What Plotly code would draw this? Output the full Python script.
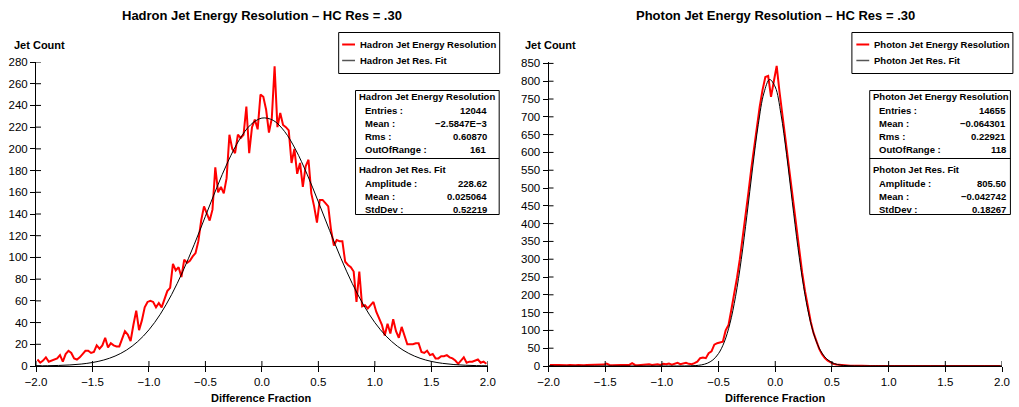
import plotly.graph_objects as go

# ---------------- data ----------------
bin_start = -1.9875   # centre of first bin
bin_width = 0.025

hadron_name = "Hadron Jet Energy Resolution"
hadron_fit_name = "Hadron Jet Res. Fit"
photon_name = "Photon Jet Energy Resolution"
photon_fit_name = "Photon Jet Res. Fit"

hadron_counts = [
    6, 3, 5, 8, 4, 5, 6, 7, 10, 4, 11, 14, 12, 7, 6, 8, 11, 14, 14, 12,
    13, 19, 16, 19, 26, 17, 21, 19, 18, 18, 25, 32, 29, 23, 38, 51, 33, 42, 54, 59,
    60, 59, 54, 58, 54, 61, 69, 72, 94, 88, 91, 82, 98, 95, 97, 101, 104, 115, 134, 147,
    140, 134, 144, 183, 160, 165, 159, 173, 213, 200, 196, 213, 210, 213, 239, 196, 220, 227, 218, 250,
    248, 236, 215, 228, 276, 220, 233, 222, 220, 217, 187, 200, 177, 187, 165, 184, 190, 159, 147, 132,
    153, 153, 150, 147, 125, 111, 116, 115, 115, 96, 93, 91, 87, 59, 87, 55, 56, 53, 56, 59,
    50, 44, 38, 28, 39, 30, 43, 32, 26, 36, 28, 20, 20, 20, 21, 21, 13, 12, 14, 10,
    11, 7, 7, 9, 9, 10, 8, 7, 5, 2, 5, 8, 3, 4, 4, 5, 6, 3, 4, 2,
]

photon_counts = [
    3, 2, 3, 3, 2, 3, 2, 3, 2, 2, 3, 2, 2, 3, 3, 2, 3, 2, 3, 4,
    7, 3, 2, 3, 4, 3, 3, 2, 3, 8, 3, 2, 3, 4, 3, 5, 3, 4, 5, 3,
    6, 5, 7, 4, 6, 9, 5, 7, 9, 6, 5, 8, 12, 22, 24, 22, 36, 41, 60, 64,
    66, 68, 100, 115, 158, 200, 248, 300, 358, 420, 485, 552, 615, 675, 728, 775, 812, 815, 756, 800,
    843, 770, 705, 650, 585, 515, 448, 380, 318, 262, 210, 165, 125, 93, 68, 48, 33, 22, 15, 10,
    6, 4, 3, 2, 2, 1, 1, 1, 0, 1, 1, 0, 1, 0, 0, 1, 0, 0, 1, 0,
    0, 1, 0, 0, 0, 1, 0, 0, 0, 0, 1, 0, 0, 0, 0, 0, 1, 0, 0, 0,
    0, 0, 0, 1, 0, 0, 0, 0, 0, 1, 0, 0, 0, 0, 0, 0, 0, 1, 0, 0,
]

hadron_fit_x = [-2.0, -1.9, -1.8, -1.7, -1.6, -1.5, -1.4, -1.3, -1.2, -1.1, -1.0,
                -0.9, -0.8, -0.7, -0.6, -0.5, -0.4, -0.3, -0.2, -0.1, 0.0,
                0.1, 0.2, 0.3, 0.4, 0.5, 0.6, 0.7, 0.8, 0.9, 1.0,
                1.1, 1.2, 1.3, 1.4, 1.5, 1.6, 1.7, 1.8, 1.9, 2.0]
hadron_fit_y = [0.12, 0.26, 0.51, 0.98, 1.80, 3.21, 5.52, 9.14, 14.58, 22.45, 33.31,
                47.62, 65.64, 87.19, 111.70, 137.93, 164.17, 188.36, 208.36, 222.15, 228.36,
                226.27, 216.14, 199.02, 176.66, 151.17, 124.69, 99.15, 76.00, 56.16, 40.01,
                27.47, 18.18, 11.61, 7.14, 4.23, 2.42, 1.33, 0.71, 0.36, 0.18]

photon_fit_x = [-2.0, -1.5, -1.0, -0.9, -0.85, -0.8, -0.75, -0.7, -0.65, -0.6, -0.55,
                -0.5, -0.45, -0.4, -0.35, -0.3, -0.25, -0.2, -0.15, -0.1, -0.05,
                0.0, 0.05, 0.1, 0.15, 0.2, 0.25, 0.3, 0.35, 0.4, 0.45,
                0.5, 0.55, 0.6, 0.65, 0.7, 0.75, 0.8, 1.0, 1.5, 2.0]
photon_fit_y = [0.0, 0.0, 0.0, 0.01, 0.05, 0.15, 0.45, 1.24, 3.21, 7.68, 17.05,
                35.10, 67.10, 118.97, 195.76, 298.80, 423.17, 556.07, 677.96, 766.89, 804.86,
                783.74, 708.10, 593.55, 461.65, 333.12, 223.04, 138.57, 79.87, 42.71, 21.19,
                9.75, 4.16, 1.65, 0.61, 0.21, 0.07, 0.02, 0.0, 0.0, 0.0]

x_ticks = [-2.0, -1.5, -1.0, -0.5, 0.0, 0.5, 1.0, 1.5, 2.0]
hadron_y_ticks = [0, 20, 40, 60, 80, 100, 120, 140, 160, 180, 200, 220, 240, 260, 280]
photon_y_ticks = [0, 50, 100, 150, 200, 250, 300, 350, 400, 450, 500, 550, 600, 650, 700, 750, 800, 850]

stats_labels = ["Entries :", "Mean :", "Rms :", "OutOfRange :"]
fit_labels = ["Amplitude :", "Mean :", "StdDev :"]
hadron_stats_values = ["12044", "\u22122.5847E\u22123", "0.60870", "161"]
hadron_fit_values = ["228.62", "0.025064", "0.52219"]
photon_stats_values = ["14655", "\u22120.064301", "0.22921", "118"]
photon_fit_values = ["805.50", "\u22120.042742", "0.18267"]

# ---------------- layout helpers ----------------
W, H = 1019, 407
L, R, T, B = 35, 9, 62, 41
PW, PH = W - L - R, H - T - B
FONT = "Liberation Sans, Arial, Helvetica, sans-serif"


def px(x):
    return (x - L) / PW


def py(y):
    return (H - B - y) / PH


fig = go.Figure()

fig.add_trace(go.Scatter(x0=bin_start, dx=bin_width, y=hadron_counts, mode="lines",
                         line=dict(color="#ff0000", width=2), name=hadron_name,
                         xaxis="x", yaxis="y", showlegend=False))
fig.add_trace(go.Scatter(x=hadron_fit_x, y=hadron_fit_y, mode="lines",
                         line=dict(color="black", width=1, shape="spline"), name=hadron_fit_name,
                         xaxis="x", yaxis="y", showlegend=False))
fig.add_trace(go.Scatter(x0=bin_start, dx=bin_width, y=photon_counts, mode="lines",
                         line=dict(color="#ff0000", width=2), name=photon_name,
                         xaxis="x2", yaxis="y2", showlegend=False))
fig.add_trace(go.Scatter(x=photon_fit_x, y=photon_fit_y, mode="lines",
                         line=dict(color="black", width=1, shape="spline"), name=photon_fit_name,
                         xaxis="x2", yaxis="y2", showlegend=False))

axis_common = dict(showline=True, linecolor="black", linewidth=1, ticks="outside",
                   ticklen=5, tickcolor="black", tickwidth=1, showgrid=False,
                   zeroline=False, tickfont=dict(family=FONT, size=11.5, color="black"))

fig.update_layout(
    width=W, height=H,
    margin=dict(l=L, r=R, t=T, b=B, pad=0),
    paper_bgcolor="white", plot_bgcolor="white",
    showlegend=False,
    font=dict(family=FONT, color="black"),
    xaxis=dict(domain=[0, px(491)], range=[-2, 2], tickvals=x_ticks,
               tickformat=".1f", anchor="y", **axis_common),
    yaxis=dict(domain=[0, 1], range=[0, 280], tickvals=hadron_y_ticks,
               anchor="x", **axis_common),
    xaxis2=dict(domain=[px(552.3), 1], range=[-2, 2], tickvals=x_ticks,
                tickformat=".1f", anchor="y2", **axis_common),
    yaxis2=dict(domain=[0, 1], range=[0, 854], tickvals=photon_y_ticks,
                anchor="x2", **axis_common),
)

shapes = []
annotations = []

# crossing tick marks (inner half)
for xa, ya, yt in (("x", "y", hadron_y_ticks), ("x2", "y2", photon_y_ticks)):
    for v in x_ticks:
        shapes.append(dict(type="line", xref=xa, yref=ya, x0=v, x1=v,
                           ysizemode="pixel", yanchor=0, y0=-5, y1=5,
                           line=dict(color="black", width=1), layer="above"))
    for v in yt:
        shapes.append(dict(type="line", xref=xa, yref=ya, y0=v, y1=v,
                           xsizemode="pixel", xanchor=-2, x0=-5, x1=5,
                           line=dict(color="black", width=1), layer="above"))


def text(x, y, s, size, xanchor="left", bold=True):
    annotations.append(dict(x=px(x), y=py(y), xref="paper", yref="paper",
                            text=("<b>%s</b>" % s) if bold else s, showarrow=False,
                            xanchor=xanchor, yanchor="middle",
                            font=dict(family=FONT, size=size, color="black")))


def rect(x0, y0, x1, y1):
    shapes.append(dict(type="rect", xref="paper", yref="paper",
                       x0=px(x0), x1=px(x1), y0=py(y0), y1=py(y1),
                       line=dict(color="black", width=1), fillcolor="white", layer="above"))


def hline(x0, x1, y, color, width):
    shapes.append(dict(type="line", xref="paper", yref="paper",
                       x0=px(x0), x1=px(x1), y0=py(y), y1=py(y),
                       line=dict(color=color, width=width), layer="above"))


panels = [
    dict(title="Hadron Jet Energy Resolution \u2013 HC Res = .30", cx=263, ylab_x=11,
         name=hadron_name, fit_name=hadron_fit_name, leg=(340.5, 503.0), leg_line=344, leg_text=360,
         box=(357.5, 502.5), box_title=358.5, box_lab=365, box_val=492.5,
         svals=hadron_stats_values, fvals=hadron_fit_values),
    dict(title="Photon Jet Energy Resolution \u2013 HC Res = .30", cx=781, ylab_x=527,
         name=photon_name, fit_name=photon_fit_name, leg=(858.5, 1021.0), leg_line=863, leg_text=879,
         box=(876.5, 1018.5), box_title=877.5, box_lab=883.5, box_val=1016.5,
         svals=photon_stats_values, fvals=photon_fit_values),
]

for p in panels:
    text(p["cx"], 16, p["title"], 13, xanchor="center")
    text(p["ylab_x"], 45, "Jet Count", 11)
    text(p["cx"], 398, "Difference Fraction", 11, xanchor="center")

    # legend box
    rect(p["leg"][0], 32.5, p["leg"][1], 73.5)
    hline(p["leg_line"], p["leg_line"] + 13, 44.5, "#ff0000", 2)
    hline(p["leg_line"], p["leg_line"] + 13, 60.5, "#555555", 1.5)
    text(p["leg_text"], 44.5, p["name"], 9.5)
    text(p["leg_text"], 60.5, p["fit_name"], 9.5)

    # statistics box
    bx0, bx1 = p["box"]
    rect(bx0, 90.5, bx1, 214.5)
    hline(bx0, bx1, 158.5, "black", 1)
    text(p["box_title"], 96.7, p["name"], 9.5)
    for k, (lab, val) in enumerate(zip(stats_labels, p["svals"])):
        yy = 110 + 13.33 * k
        text(p["box_lab"], yy, lab, 9.5)
        text(p["box_val"], yy, val, 9.5, xanchor="right")
    text(p["box_title"], 169.5, p["fit_name"], 9.5)
    for k, (lab, val) in enumerate(zip(fit_labels, p["fvals"])):
        yy = 183.3 + 13.33 * k
        text(p["box_lab"], yy, lab, 9.5)
        text(p["box_val"], yy, val, 9.5, xanchor="right")

fig.update_layout(shapes=shapes, annotations=annotations)

fig.write_html("out.html")
